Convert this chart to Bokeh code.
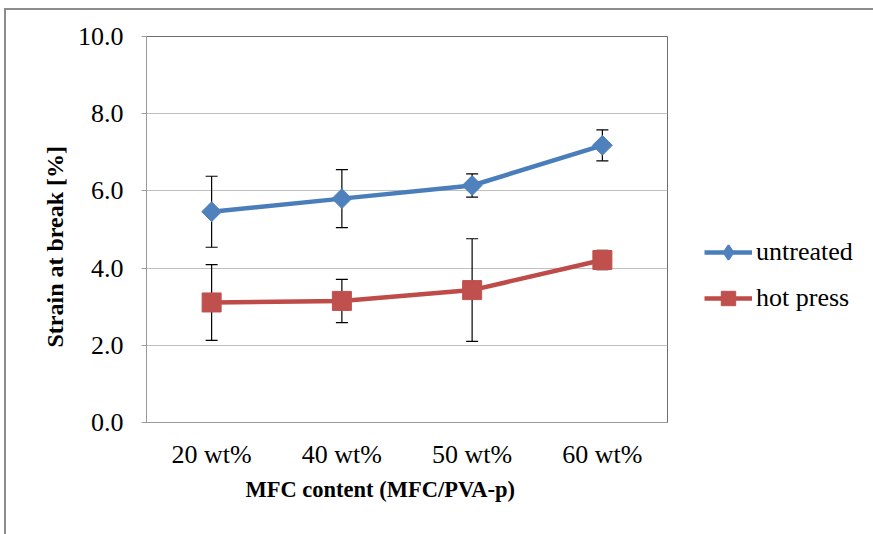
import numpy as np
from bokeh.plotting import figure
from bokeh.layouts import row
from bokeh.models import (ColumnDataSource, FactorRange, Range1d, Whisker, Legend,
                          LegendItem, FixedTicker, NumeralTickFormatter, TeeHead, Title)
from bokeh.embed import file_html
from bokeh.resources import INLINE

# ---- data ----
categories = ["20 wt%", "40 wt%", "50 wt%", "60 wt%"]
untreated = [5.46, 5.80, 6.14, 7.18]
untreated_err = [0.92, 0.75, 0.30, 0.40]
hot_press = [3.11, 3.15, 3.43, 4.21]
hot_press_err = [0.98, 0.56, 1.33, 0.25]
y_ticks = [0, 2, 4, 6, 8, 10]

FONT = "Liberation Serif"
BLUE_LINE, BLUE_MARK = "#4A7EBB", "#4F81BD"
RED_LINE, RED_MARK = "#BE4B48", "#C0504D"

src_u = ColumnDataSource(dict(
    x=categories, y=untreated,
    lo=[v - e for v, e in zip(untreated, untreated_err)],
    hi=[v + e for v, e in zip(untreated, untreated_err)]))
src_h = ColumnDataSource(dict(
    x=categories, y=hot_press,
    lo=[v - e for v, e in zip(hot_press, hot_press_err)],
    hi=[v + e for v, e in zip(hot_press, hot_press_err)]))

p = figure(width=662, height=524, x_range=FactorRange(*categories, range_padding=0),
           y_range=Range1d(0, 10), output_backend="svg", toolbar_location=None,
           min_border_left=140, min_border_right=1, min_border_top=26,
           min_border_bottom=112)

p.background_fill_color = "white"
p.border_fill_color = "white"
p.outline_line_color = "#6e6e6e"
p.outline_line_width = 1

# grid
p.xgrid.grid_line_color = None
p.ygrid.grid_line_color = "#c0c0c0"
p.ygrid.grid_line_width = 1

# y axis
p.yaxis.ticker = FixedTicker(ticks=y_ticks)
p.yaxis.formatter = NumeralTickFormatter(format="0.0")
p.yaxis.major_tick_in = 0
p.yaxis.major_tick_out = 5
p.yaxis.minor_tick_line_color = None
p.yaxis.axis_line_color = "#9a9a9a"
p.yaxis.major_tick_line_color = "#9a9a9a"
p.yaxis.major_label_text_font = FONT
p.yaxis.major_label_text_font_size = "26px"
p.yaxis.major_label_text_color = "black"
p.yaxis.major_label_standoff = 18

# x axis
p.xaxis.major_tick_line_color = None
p.xaxis.major_tick_in = 0
p.xaxis.major_tick_out = 0
p.xaxis.axis_line_color = "#9a9a9a"
p.xaxis.major_label_text_font = FONT
p.xaxis.major_label_text_font_size = "26px"
p.xaxis.major_label_text_color = "black"
p.xaxis.major_label_standoff = 17

# axis titles
ytitle = Title(text="Strain at break [%]", align="left", offset=75, standoff=14,
               text_font=FONT, text_font_style="bold", text_font_size="24px",
               text_color="black")
p.add_layout(ytitle, "left")
xtitle = Title(text="MFC content (MFC/PVA-p)", align="left", offset=99, standoff=7,
               text_font=FONT, text_font_style="bold", text_font_size="22.5px",
               text_color="black")
p.add_layout(xtitle, "below")

# error bars (behind the markers)
for src in (src_u, src_h):
    w = Whisker(source=src, base="x", lower="lo", upper="hi",
                line_color="black", line_width=1.2, level="underlay",
                upper_head=TeeHead(size=12, line_color="black", line_width=1.2),
                lower_head=TeeHead(size=12, line_color="black", line_width=1.2))
    p.add_layout(w)


def draw_series(fig, for_legend=False):
    lu = fig.line("x", "y", source=src_u, line_color=BLUE_LINE, line_width=4.5)
    if for_legend:
        mu = fig.scatter("x", "y", source=src_u, marker="diamond", size=15,
                         fill_color=BLUE_MARK, line_color=BLUE_MARK, line_width=2)
    else:
        mu = fig.scatter("x", "y", source=src_u, marker="square", angle=np.pi / 4,
                         size=14, fill_color=BLUE_MARK, line_color=BLUE_MARK)
    lh = fig.line("x", "y", source=src_h, line_color=RED_LINE, line_width=4.5)
    mh = fig.scatter("x", "y", source=src_h, marker="square", size=19,
                     fill_color=RED_MARK, line_color=RED_MARK)
    return lu, mu, lh, mh


draw_series(p)

# legend panel (a second canvas to the right of the plot area)
p2 = figure(width=205, height=524, x_range=FactorRange(*categories),
            y_range=Range1d(100, 110), output_backend="svg", toolbar_location=None,
            min_border=0)
p2.axis.visible = False
p2.grid.visible = False
p2.outline_line_color = None
p2.background_fill_color = "white"
p2.border_fill_color = "white"
lu, mu, lh, mh = draw_series(p2, for_legend=True)   # off-view copies for the legend

legend = Legend(items=[LegendItem(label="untreated", renderers=[lu, mu]),
                       LegendItem(label="hot press", renderers=[lh, mh])],
                location=(36, 106), orientation="vertical")
legend.label_text_font = FONT
legend.label_text_font_size = "26px"
legend.label_text_color = "black"
legend.glyph_width = 48
legend.glyph_height = 36
legend.label_standoff = 4
legend.spacing = 10
legend.padding = 0
legend.margin = 0
legend.border_line_color = None
legend.background_fill_alpha = 0
p2.add_layout(legend)

layout = row(p, p2, spacing=0)
layout.styles = {"margin-left": "4px", "margin-top": "8px",
                 "border-left": "2px solid #8c8c8c", "border-top": "2px solid #8c8c8c"}

open("out.html", "w").write(file_html(layout, INLINE))
